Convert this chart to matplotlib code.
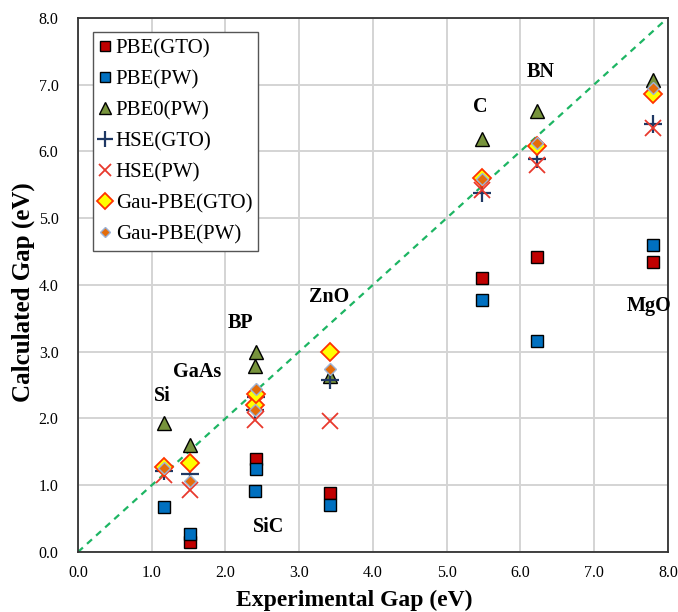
import numpy as np
import matplotlib
matplotlib.use("Agg")
import matplotlib.pyplot as plt

plt.rcParams['font.family'] = ['Liberation Serif', 'DejaVu Serif']

# materials: Si, GaAs, BP, SiC, ZnO, C, BN, MgO
materials = ['Si', 'GaAs', 'BP', 'SiC', 'ZnO', 'C', 'BN', 'MgO']
exp_gap = [1.17, 1.52, 2.40, 2.42, 3.42, 5.48, 6.23, 7.80]

pbe_gto = [np.nan, 0.15, np.nan, 1.40, 0.89, 4.11, 4.42, 4.34]
pbe_pw = [0.67, 0.27, 0.92, 1.25, 0.71, 3.77, 3.16, 4.59]
pbe0_pw = [1.93, 1.61, 2.79, 2.99, 2.63, 6.18, 6.60, 7.07]
hse_gto = [1.21, 1.17, 2.12, 2.32, 2.57, 5.38, 5.89, 6.41]
hse_pw = [1.15, 0.93, 1.97, 2.22, 1.96, 5.42, 5.80, 6.35]
gau_gto = [1.27, 1.33, 2.20, 2.37, 2.99, 5.60, 6.08, 6.86]
gau_pw = [1.26, 1.06, 2.12, 2.44, 2.74, 5.59, 6.12, 6.95]

# label positions (data coords)
label_x = [1.14, 1.62, 2.20, 2.58, 3.40, 5.46, 6.28, 7.75]
label_y = [2.33, 2.69, 3.43, 0.37, 3.82, 6.66, 7.19, 3.69]

fig = plt.figure(figsize=(6.78, 6.12), dpi=100)
ax = fig.add_axes([0.115, 0.098, 0.870, 0.873])

ax.plot([0, 8], [0, 8], color='#1DB563', ls=(0, (3, 2.5)), lw=1.6, zorder=1)

ax.plot(exp_gap, pbe_gto, ls='none', marker='s', ms=8.5, mfc='#C00000', mec='black', mew=1.0, label='PBE(GTO)', zorder=3)
ax.plot(exp_gap, pbe_pw, ls='none', marker='s', ms=8.5, mfc='#0070C0', mec='black', mew=1.0, label='PBE(PW)', zorder=3)
ax.plot(exp_gap, pbe0_pw, ls='none', marker='^', ms=10, mfc='#77933C', mec='black', mew=1.0, label='PBE0(PW)', zorder=3)
ax.plot(exp_gap, hse_gto, ls='none', marker='+', ms=13, mec='#1F3864', mew=1.6, label='HSE(GTO)', zorder=3)
ax.plot(exp_gap, hse_pw, ls='none', marker='x', ms=11, mec='#E8392D', mew=1.3, label='HSE(PW)', zorder=3)
ax.plot(exp_gap, gau_gto, ls='none', marker='D', ms=9, mfc='#FFFF00', mec='#FF3300', mew=1.3, label='Gau-PBE(GTO)', zorder=3)
ax.plot(exp_gap, gau_pw, ls='none', marker='D', ms=6.5, mfc='#E46C0A', mec='#9DB3D6', mew=1.0, label='Gau-PBE(PW)', zorder=3)

for name, lx, ly in zip(materials, label_x, label_y):
    ax.text(lx, ly, name, ha='center', va='center', fontsize=14.5, fontweight='bold')

ax.set_xlim(0, 8)
ax.set_ylim(0, 8)
ticks = np.arange(0, 9, 1.0)
ax.set_xticks(ticks)
ax.set_yticks(ticks)
ax.set_xticklabels([f'{t:.1f}' for t in ticks], fontsize=11.5)
ax.set_yticklabels([f'{t:.1f}' for t in ticks], fontsize=11.5)
ax.tick_params(axis='x', length=0, pad=9)
ax.tick_params(axis='y', length=0, pad=14)
ax.grid(True, color='#D4D4D4', lw=1.4)
ax.set_axisbelow(True)
for sp in ax.spines.values():
    sp.set_color('#333333')
    sp.set_linewidth(1.3)

ax.set_xlabel('Experimental Gap (eV)', fontsize=17, fontweight='bold')
ax.set_ylabel('Calculated Gap (eV)', fontsize=18, fontweight='bold')
ax.xaxis.set_label_coords(0.469, -0.070)
ax.yaxis.set_label_coords(-0.073, 0.486)

leg = ax.legend(loc='upper left', bbox_to_anchor=(0.025, 0.973), fontsize=15,
                frameon=True, fancybox=False, edgecolor='#555555', framealpha=1,
                handlelength=0.6, handletextpad=0.2, labelspacing=0.55,
                borderpad=0.3, borderaxespad=0, markerscale=0.85)
leg.get_frame().set_linewidth(1.0)

fig.savefig('out.png', dpi=100)
